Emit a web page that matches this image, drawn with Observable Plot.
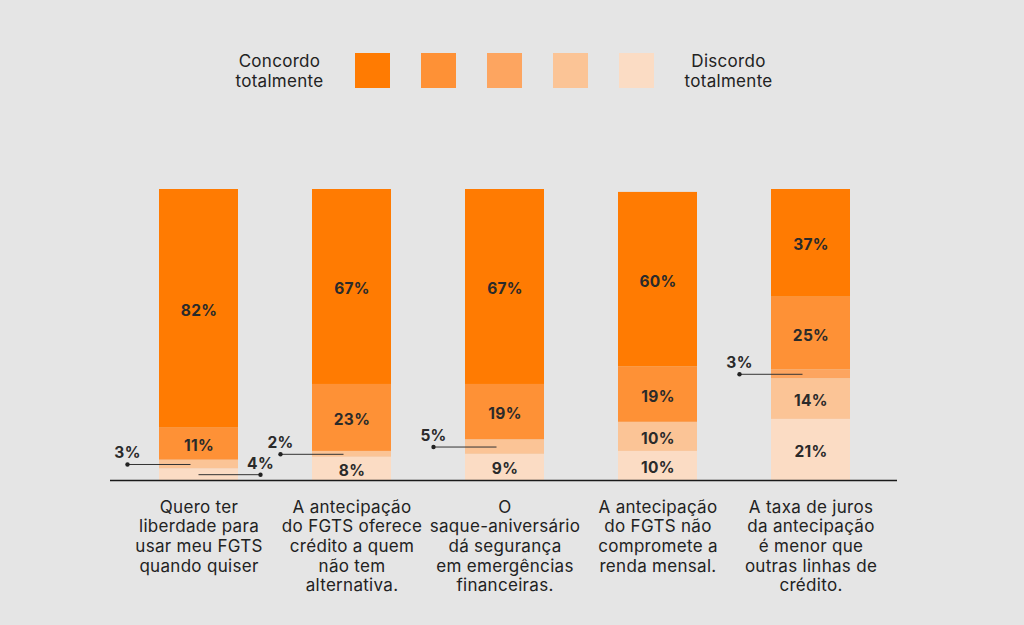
<!DOCTYPE html>
<html>
<head>
<meta charset="utf-8">
<script src="https://cdn.jsdelivr.net/npm/d3@7"></script>
<script src="https://cdn.jsdelivr.net/npm/@observablehq/plot@0.6"></script>
<style>
  html, body { margin: 0; padding: 0; background: #e5e5e5; }
  body { width: 1024px; height: 625px; overflow: hidden; font-family: Inter, "Open Sans", sans-serif; color: #222; }
  #legend {
    height: 120px; box-sizing: border-box; padding-top: 53px; padding-right: 16px;
    display: flex; justify-content: center; align-items: flex-start; gap: 31px;
  }
  #legend .lbl { font-size: 17px; line-height: 20px; letter-spacing: 0.3px; text-align: center; margin-top: -2px; }
  #legend .sw { width: 35px; height: 35px; }
  #chart svg { display: block; }
  #chart svg text { letter-spacing: 0.3px; }
</style>
</head>
<body>
<div id="legend"></div>
<div id="chart"></div>
<script>
// Survey statements (x categories)
const categories = [
  "Quero ter\nliberdade para\nusar meu FGTS\nquando quiser",
  "A antecipação\ndo FGTS oferece\ncrédito a quem\nnão tem\nalternativa.",
  "O\nsaque-aniversário\ndá segurança\nem emergências\nfinanceiras.",
  "A antecipação\ndo FGTS não\ncompromete a\nrenda mensal.",
  "A taxa de juros\nda antecipação\né menor que\noutras linhas de\ncrédito."
];

// Agreement scale, from "Concordo totalmente" to "Discordo totalmente"
const levels = ["Concordo totalmente", "Concordo", "Neutro", "Discordo", "Discordo totalmente"];
const levelColors = ["#ff7b02", "#fe9136", "#fda560", "#fbc496", "#fbdcc4"];

// Share of respondents (%) per level, one value per statement
const concordoTotalmente = [82, 67, 67, 60, 37];
const concordo           = [11, 23, 19, 19, 25];
const neutro             = [0, 0, 0, 0, 3];
const discordo           = [3, 2, 5, 10, 14];
const discordoTotalmente = [4, 8, 9, 10, 21];
const series = [concordoTotalmente, concordo, neutro, discordo, discordoTotalmente];

// Legend (extremes labelled, swatches in between)
const legend = document.getElementById("legend");
const mkLabel = t => { const d = document.createElement("div"); d.className = "lbl"; d.innerHTML = t; return d; };
legend.appendChild(mkLabel("Concordo<br>totalmente"));
levelColors.forEach(c => { const s = document.createElement("div"); s.className = "sw"; s.style.background = c; legend.appendChild(s); });
legend.appendChild(mkLabel("Discordo<br>totalmente"));

// Stack from the bottom: "Discordo totalmente" first, "Concordo totalmente" on top
const segments = [];
categories.forEach((cat, i) => {
  let base = 0;
  for (let l = levels.length - 1; l >= 0; --l) {
    const v = series[l][i];
    segments.push({cat, level: levels[l], value: v, y1: base, y2: base + v, mid: base + v / 2});
    base += v;
  }
});
const bars = segments.filter(d => d.value > 0);

// Thin segments get an outside label with a leader line; when two thin
// segments are adjacent, the lower one is labelled on the right.
const SMALL = 6;
const inside = bars.filter(d => d.value >= SMALL);
const outside = bars.filter(d => d.value < SMALL).map(d => {
  const above = bars.filter(b => b.cat === d.cat && b.y1 >= d.y2).sort((a, b) => a.y1 - b.y1)[0];
  return {...d, side: above && above.value < SMALL ? "right" : "left"};
});
const leftOut = outside.filter(d => d.side === "left");
const rightOut = outside.filter(d => d.side === "right");

const BW = 79;       // bar width in px
const LEFT_GAP = 32; // distance of left callout dot from bar edge
const RIGHT_GAP = 22;
const pct = d => d.value + "%";

const chart = Plot.plot({
  width: 1024,
  height: 505,
  marginTop: 69,
  marginBottom: 145,
  marginLeft: 158,
  marginRight: 173,
  style: {fontFamily: "Inter, 'Open Sans', sans-serif", fontSize: "17px", background: "transparent", color: "#222"},
  x: {domain: categories, paddingInner: 0.4853, paddingOuter: 0, label: null},
  y: {domain: [0, 100], axis: null},
  color: {domain: levels, range: levelColors},
  marks: [
    Plot.barY(bars, {x: "cat", y1: "y1", y2: "y2", fill: "level"}),
    Plot.text(inside, {x: "cat", y: "mid", dy: 2, text: pct, fontSize: 15.5, fontWeight: 700, fill: "#2a2a2a"}),
    // left callouts
    Plot.tickY(leftOut, {x: "cat", y: "mid", insetLeft: -LEFT_GAP, insetRight: BW / 2 + 8, stroke: "#333", strokeWidth: 1}),
    Plot.dot(leftOut, {x: "cat", y: "mid", dx: -(BW / 2 + LEFT_GAP), r: 2.2, fill: "#222", stroke: null}),
    Plot.text(leftOut, {x: "cat", y: "mid", dx: -(BW / 2 + LEFT_GAP), dy: -11, text: pct, fontSize: 15.5, fontWeight: 700, fill: "#2a2a2a"}),
    // right callouts
    Plot.tickY(rightOut, {x: "cat", y: "mid", insetLeft: BW / 2, insetRight: -RIGHT_GAP, stroke: "#333", strokeWidth: 1}),
    Plot.dot(rightOut, {x: "cat", y: "mid", dx: BW / 2 + RIGHT_GAP, r: 2.2, fill: "#222", stroke: null}),
    Plot.text(rightOut, {x: "cat", y: "mid", dx: BW / 2 + RIGHT_GAP, dy: -11, text: pct, fontSize: 15.5, fontWeight: 700, fill: "#2a2a2a"}),
    // baseline
    Plot.ruleY([0], {insetLeft: -48, insetRight: -46, stroke: "#1a1a1a", strokeWidth: 1.5}),
    Plot.axisX({tickSize: 0, tickPadding: 18, lineAnchor: "top", lineHeight: 1.16, fill: "#222", label: null})
  ]
});
document.getElementById("chart").appendChild(chart);
</script>
</body>
</html>
